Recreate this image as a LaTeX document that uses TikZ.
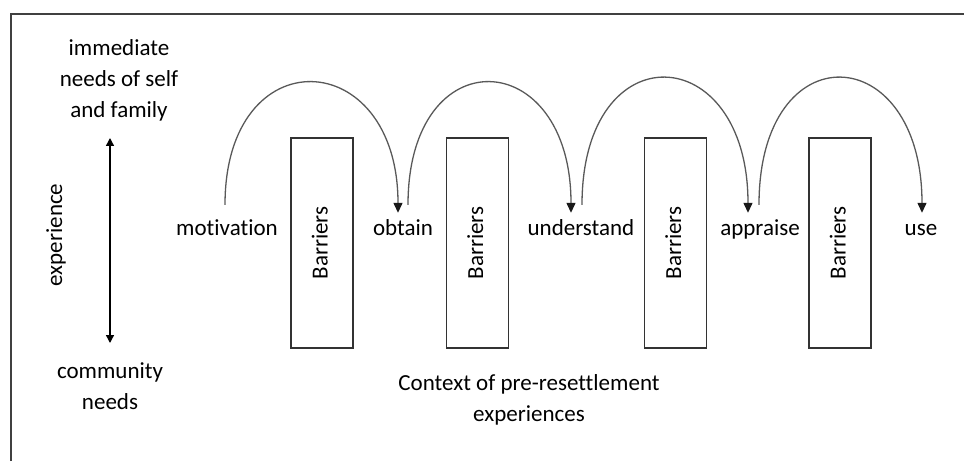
\documentclass[tikz,border=0pt]{standalone}
\usepackage{fontspec}
\setmainfont{Carlito}[Ligatures=NoCommon]
\usetikzlibrary{arrows.meta}

\begin{document}
\begin{tikzpicture}[x=1pt, y=1pt,
    every node/.style={font=\fontsize{23}{31}\selectfont, inner sep=0pt},
    word/.style={text height=17pt, text depth=6pt},
    barrier/.style={draw=black!80, line width=1.2pt, rotate=90, word,
      minimum width=210pt, minimum height=62pt},
    hop/.style={-{Triangle[width=9pt, length=10pt, black!90]}, draw=black!65, line width=1.3pt}]
  \useasboundingbox (0, 0) rectangle (964, 461);
  \draw [black!75, line width=1.3pt] (11, 0) -- (11, 447) -- (964, 447);

  \node [align=center] (self) at (119, 381) {immediate\\needs of self\\and family};
  \node [align=center] (comm) at (110, 75) {community\\needs};
  \node [word, rotate=90] (exp) at (56.5, 226) {experience};
  \coordinate (etop) at (110, 323);
  \coordinate (ebot) at (110, 118);
  \draw [{Triangle[width=8pt, length=8pt]}-{Triangle[width=8pt, length=8pt]}, line width=1.4pt] (etop) -- (ebot);

  \node [word] (mot) at (227, 230.5) {motivation};
  \node [word] (obt) at (403, 230.5) {obtain};
  \node [word] (und) at (581, 230.5) {understand};
  \node [word] (app) at (760, 230.5) {appraise};
  \node [word] (use) at (921, 230.5) {use};

  \node [barrier] (b1) at (322, 218) {Barriers};
  \node [barrier] (b2) at (477.5, 218) {Barriers};
  \node [barrier] (b3) at (675.5, 218) {Barriers};
  \node [barrier] (b4) at (840, 218) {Barriers};

  \draw [hop] ([xshift=-2pt, yshift=14pt]mot.north) .. controls +(0, 168) and +(0, 168) .. ([xshift=-5pt, yshift=6pt]obt.north);
  \draw [hop] ([xshift=5pt, yshift=14pt]obt.north) .. controls +(0, 168) and +(0, 168) .. ([xshift=-10pt, yshift=6pt]und.north);
  \draw [hop] ([xshift=1pt, yshift=14pt]und.north) .. controls +(0, 174) and +(0, 174) .. ([xshift=-12pt, yshift=6pt]app.north);
  \draw [hop] ([xshift=-1pt, yshift=14pt]app.north) .. controls +(0, 174) and +(0, 174) .. ([xshift=1pt, yshift=6pt]use.north);

  \node [align=center] (ctx) at (529, 61) {Context of pre-resettlement\\experiences};
\end{tikzpicture}
\end{document}
